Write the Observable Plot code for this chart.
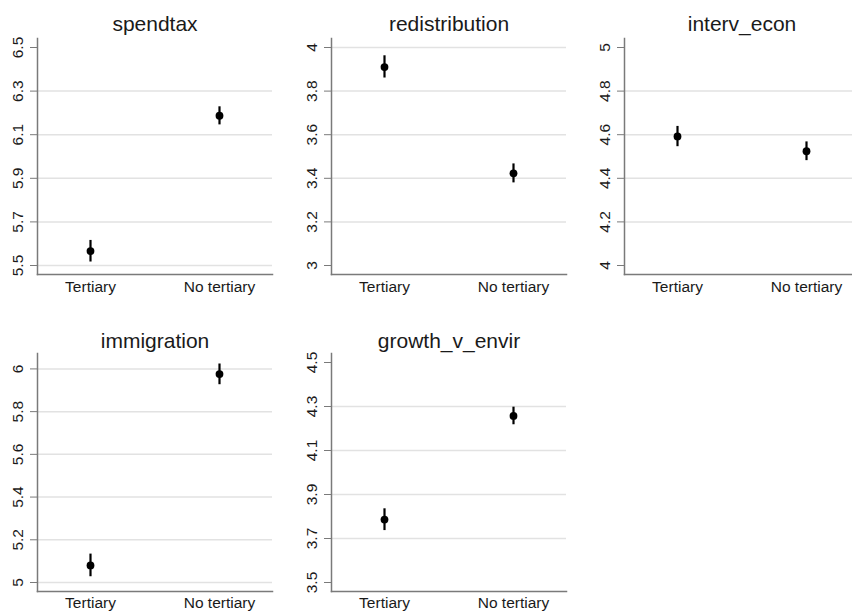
<!DOCTYPE html>
<html>
<head>
<meta charset="utf-8">
<script src="https://cdn.jsdelivr.net/npm/d3@7"></script>
<script src="https://cdn.jsdelivr.net/npm/@observablehq/plot@0.6"></script>
<style>
  body { margin: 0; background: #fff; }
  #chart { position: relative; width: 852px; height: 611px; overflow: hidden; background: #fff; }
  #chart > .panel { position: absolute; width: 290px; }
  #chart > .panel svg { max-width: none !important; }
</style>
</head>
<body>
<div id="chart"></div>
<script>
// Outcome variables, one panel each
const variables = ["spendtax", "redistribution", "interv_econ", "immigration", "growth_v_envir"];
// Education groups on the x axis
const groups = ["Tertiary", "No tertiary"];

// Point estimates and confidence bounds, in the order of `variables`
const meanTertiary   = [5.566, 3.910, 4.592, 5.080, 3.786];
const lowTertiary    = [5.516, 3.860, 4.545, 5.027, 3.736];
const highTertiary   = [5.615, 3.962, 4.638, 5.133, 3.835];
const meanNoTertiary = [6.187, 3.423, 4.524, 5.976, 4.257];
const lowNoTertiary  = [6.145, 3.379, 4.481, 5.926, 4.217];
const highNoTertiary = [6.228, 3.466, 4.567, 6.023, 4.297];

// Y axis ranges, tick labels and grid lines per panel
const yDomains = [[5.5, 6.5], [3, 4], [4, 5], [5, 6.03], [3.5, 4.5]];
const yTicks = [
  [5.5, 5.7, 5.9, 6.1, 6.3, 6.5],
  [3, 3.2, 3.4, 3.6, 3.8, 4],
  [4, 4.2, 4.4, 4.6, 4.8, 5],
  [5, 5.2, 5.4, 5.6, 5.8, 6],
  [3.5, 3.7, 3.9, 4.1, 4.3, 4.5]
];
const yGrid = [
  [5.5, 5.7, 5.9, 6.1, 6.3],
  [3.2, 3.4, 3.6, 3.8, 4],
  [4.2, 4.4, 4.6, 4.8],
  [5, 5.2, 5.4, 5.6, 5.8, 6],
  [3.7, 3.9, 4.1, 4.3]
];

// Grid layout: three panels on the first row, two on the second
const layout = [
  {left: 0,   top: 0,   height: 300, marginBottom: 26, titleDy: -14, xPad: 6},
  {left: 294, top: 0,   height: 300, marginBottom: 26, titleDy: -14, xPad: 6},
  {left: 587, top: 0,   height: 300, marginBottom: 26, titleDy: -14, xPad: 6},
  {left: 0,   top: 315, height: 296, marginBottom: 20, titleDy: -12, xPad: 5},
  {left: 294, top: 315, height: 296, marginBottom: 20, titleDy: -12, xPad: 5}
];

const FONT = "'Liberation Sans', Arial, Helvetica, sans-serif";
const INK = "#1a1a1a";
const AXIS = "#7a7a7a";

const chart = document.getElementById("chart");

variables.forEach((name, i) => {
  const rows = [
    {group: groups[0], mean: meanTertiary[i], low: lowTertiary[i], high: highTertiary[i]},
    {group: groups[1], mean: meanNoTertiary[i], low: lowNoTertiary[i], high: highNoTertiary[i]}
  ];
  const L = layout[i];
  const plot = Plot.plot({
    width: 290,
    height: L.height,
    marginLeft: 37,
    marginRight: 18,
    marginTop: 38,
    marginBottom: L.marginBottom,
    style: {fontFamily: FONT, fontSize: "15.5px", color: INK, background: "transparent", overflow: "visible", maxWidth: "none"},
    x: {type: "point", domain: groups, padding: 0.41, label: null},
    y: {domain: yDomains[i], insetTop: 9, insetBottom: 9, label: null},
    marks: [
      Plot.gridY(yGrid[i], {stroke: "#e2e2e2", strokeOpacity: 1, strokeWidth: 1.5}),
      Plot.frame({anchor: "left", stroke: AXIS, strokeWidth: 1.5}),
      Plot.frame({anchor: "bottom", stroke: AXIS, strokeWidth: 1.5}),
      Plot.axisY(yTicks[i], {
        tickSize: 7, tickPadding: 8, tickRotate: -90,
        tickFormat: d => `${d}`, stroke: AXIS, fill: INK, fontSize: 15.5, label: null
      }),
      Plot.axisX({tickSize: 0, tickPadding: L.xPad, fill: INK, fontSize: 15.5, label: null}),
      Plot.ruleX(rows, {x: "group", y1: "low", y2: "high", stroke: "black", strokeWidth: 2.2}),
      Plot.dot(rows, {x: "group", y: "mean", r: 3.9, fill: "black", stroke: null}),
      Plot.text([name], {
        text: d => d, frameAnchor: "top", lineAnchor: "middle",
        dy: L.titleDy, fontSize: 21, fill: INK
      })
    ]
  });
  const holder = document.createElement("div");
  holder.className = "panel";
  holder.style.left = L.left + "px";
  holder.style.top = L.top + "px";
  holder.appendChild(plot);
  chart.appendChild(holder);
});
</script>
</body>
</html>
